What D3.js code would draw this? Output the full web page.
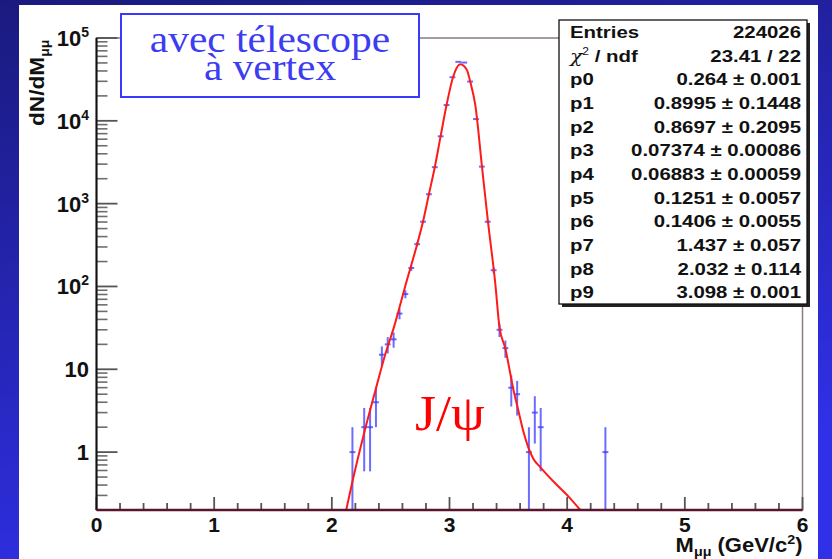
<!DOCTYPE html>
<html>
<head>
<meta charset="utf-8">
<script src="https://cdn.jsdelivr.net/npm/d3@7"></script>
<style>
  html, body { margin: 0; padding: 0; overflow: hidden; }
  svg { display: block; }
  .root-font { font-family: "Liberation Sans", Arial, sans-serif; font-weight: bold; }
  .serif-font { font-family: "Liberation Serif", "Times New Roman", serif; }
</style>
</head>
<body>
<svg id="chart-svg" width="832" height="559"></svg>
<script>
// histogram bins (width 0.05 GeV), bin centre and content, empty bins left out
const binCenters = [2.175, 2.275, 2.325, 2.375, 2.425, 2.475, 2.525, 2.575, 2.625, 2.675,
                    2.725, 2.775, 2.825, 2.875, 2.925, 2.975, 3.025, 3.075, 3.125, 3.175,
                    3.225, 3.275, 3.325, 3.375, 3.425, 3.475, 3.525, 3.575, 3.675, 3.725,
                    3.775, 4.325];
const binCounts = [1, 2, 2, 4, 15, 20, 23, 47, 81, 167,
                   324, 605, 1300, 2754, 6500, 15500, 33600, 51500, 50500, 29800,
                   10500, 2800, 605, 157, 30, 18, 6, 5, 1, 3,
                   2, 1];
const binWidth = 0.05;

// fit curve
const fitMass = [2.122, 2.178, 2.27, 2.368, 2.45, 2.53, 2.638, 2.708, 2.775, 2.825, 2.875,
                 2.925, 2.975, 3.03, 3.091, 3.148, 3.176, 3.219, 3.276, 3.327, 3.389,
                 3.425, 3.474, 3.544, 3.587, 3.629, 3.672, 3.715, 3.771, 3.913, 4.012, 4.111];
const fitValue = [0.2, 0.46, 1.6, 5.4, 14.5, 33, 119, 264, 607, 1300, 2754,
                  6578, 15500, 33640, 48200, 41200, 29780, 15570, 2800, 607, 109,
                  32, 18, 5.6, 3.1, 1.75, 1.12, 0.82, 0.66, 0.40, 0.29, 0.2];

const xMajorTicks = [0, 1, 2, 3, 4, 5, 6];
const yDecades = [1, 10, 100, 1000, 10000, 100000];
const yLabelBase = ['1', '10', '10', '10', '10', '10'];
const yLabelExp = ['', '', '2', '3', '4', '5'];

const statLabels = ['Entries', 'χ2 / ndf', 'p0', 'p1', 'p2', 'p3', 'p4', 'p5', 'p6', 'p7', 'p8', 'p9'];
const statValues = ['224026', '23.41 / 22', '0.264 ± 0.001', '0.8995 ± 0.1448', '0.8697 ± 0.2095',
                    '0.07374 ± 0.00086', '0.06883 ± 0.00059', '0.1251 ± 0.0057', '0.1406 ± 0.0055',
                    '1.437 ± 0.057', '2.032 ± 0.114', '3.098 ± 0.001'];

const svg = d3.select('#chart-svg');

// slide background
const defs = svg.append('defs');
const grad = defs.append('linearGradient').attr('id', 'bg-grad')
      .attr('x1', '0').attr('y1', '0').attr('x2', '0.35').attr('y2', '1');
grad.append('stop').attr('offset', '0').attr('stop-color', '#1a1a7e');
grad.append('stop').attr('offset', '1').attr('stop-color', '#3030e8');
svg.append('rect').attr('width', 832).attr('height', 559).attr('fill', 'url(#bg-grad)');
svg.append('rect').attr('x', 19).attr('y', 5).attr('width', 799).attr('height', 560).attr('fill', '#ffffff');

const frame = {left: 96.5, right: 802.5, top: 38, bottom: 510};

const x = d3.scaleLinear().domain([0, 6]).range([frame.left, frame.right]);
const y = d3.scaleLog().domain([0.2, 1e5]).range([frame.bottom, frame.top]).clamp(true);

// text stretched sideways like the slide
const stretched = (sel, px, py, sx, rot) =>
      sel.attr('transform', `translate(${px},${py})${rot ? ' rotate(' + rot + ')' : ''} scale(${sx},1)`);

// frame
svg.append('rect')
    .attr('x', frame.left).attr('y', frame.top)
    .attr('width', frame.right - frame.left).attr('height', frame.bottom - frame.top)
    .attr('fill', 'none').attr('stroke', '#8a7c7c').attr('stroke-width', 1.5);

// y ticks (inside, major + minor per decade)
const yMinor = [];
[0.1, ...yDecades].forEach(d => { for (let k = 2; k <= 9; k++) yMinor.push(d * k); });
const yTicksG = svg.append('g');
yTicksG.selectAll('line.minor')
    .data(yMinor.filter(v => v >= 0.2 && v < 1e5))
    .enter().append('line')
    .attr('x1', frame.left).attr('x2', frame.left + 11)
    .attr('y1', d => y(d)).attr('y2', d => y(d))
    .attr('stroke', '#6e6e6e').attr('stroke-width', 1.6);
yTicksG.selectAll('line.major')
    .data(yDecades)
    .enter().append('line')
    .attr('x1', frame.left).attr('x2', frame.left + 21)
    .attr('y1', d => y(d)).attr('y2', d => y(d))
    .attr('stroke', '#555').attr('stroke-width', 1.8);

// x ticks (inside, every 0.2)
const xTicksG = svg.append('g');
xTicksG.selectAll('line')
    .data(d3.range(0, 31).map(i => i * 0.2))
    .enter().append('line')
    .attr('x1', d => x(d)).attr('x2', d => x(d))
    .attr('y1', frame.bottom)
    .attr('y2', (d, i) => frame.bottom - (i % 5 === 0 ? 13 : 7))
    .attr('stroke', '#555').attr('stroke-width', 1.8);

// y tick labels
const yLab = svg.append('g').attr('class', 'root-font').attr('fill', '#111');
yDecades.forEach((d, i) => {
    const t = yLab.append('text')
          .attr('x', 89).attr('y', y(d) + 8)
          .attr('text-anchor', 'end').attr('font-size', 22);
    t.append('tspan').text(yLabelBase[i]);
    if (yLabelExp[i]) {
        t.append('tspan').attr('dy', -9).attr('font-size', 14).text(yLabelExp[i]);
    }
});

// x tick labels
svg.append('g').attr('class', 'root-font').attr('fill', '#111')
    .selectAll('text').data(xMajorTicks).enter().append('text')
    .attr('x', d => x(d)).attr('y', 532)
    .attr('text-anchor', 'middle').attr('font-size', 21)
    .text(d => d);

// axis titles
const xTitle = svg.append('text').attr('class', 'root-font').attr('fill', '#111')
      .attr('text-anchor', 'end').attr('font-size', 20);
stretched(xTitle, frame.right, 552, 1.1);
xTitle.append('tspan').text('M');
xTitle.append('tspan').attr('font-size', 13).attr('dy', 4).text('μμ');
xTitle.append('tspan').attr('dy', -4).text(' (GeV/c');
xTitle.append('tspan').attr('font-size', 13).attr('dy', -8).text('2');
xTitle.append('tspan').attr('dy', 8).text(')');

const yTitle = svg.append('text').attr('class', 'root-font').attr('fill', '#111').attr('font-size', 21);
stretched(yTitle, 44, 126, 1.08, -90);
yTitle.append('tspan').text('dN/dM');
yTitle.append('tspan').attr('font-size', 13).attr('dy', 5).text('μμ');

// left axis line
svg.append('line')
    .attr('x1', frame.left).attr('x2', frame.left).attr('y1', frame.top).attr('y2', frame.bottom)
    .attr('stroke', '#111').attr('stroke-width', 2);

// data error bars
const bins = binCenters.map((c, i) => ({m: c, n: binCounts[i], e: Math.sqrt(binCounts[i])}));
const dataG = svg.append('g').attr('stroke', '#3b3bff').attr('stroke-opacity', 0.75).attr('stroke-width', 2);
dataG.selectAll('line.v').data(bins).enter().append('line')
    .attr('x1', d => x(d.m)).attr('x2', d => x(d.m))
    .attr('y1', d => y(Math.max(d.n - d.e, 0.2))).attr('y2', d => y(d.n + d.e));
dataG.selectAll('line.h').data(bins).enter().append('line')
    .attr('x1', d => x(d.m - binWidth / 2)).attr('x2', d => x(d.m + binWidth / 2))
    .attr('y1', d => y(d.n)).attr('y2', d => y(d.n));

// fit curve
const fitPoints = fitMass.map((m, i) => [m, fitValue[i]]);
svg.append('path')
    .datum(fitPoints)
    .attr('d', d3.line().x(d => x(d[0])).y(d => y(d[1])).curve(d3.curveMonotoneX))
    .attr('fill', 'none').attr('stroke', '#ff1a1a').attr('stroke-width', 2);

// bottom line: axis with the clipped fit on it
svg.append('line')
    .attr('x1', frame.left).attr('x2', frame.right).attr('y1', frame.bottom).attr('y2', frame.bottom)
    .attr('stroke', '#5a1430').attr('stroke-width', 2.6);

// "avec telescope" box
svg.append('rect').attr('x', 121).attr('y', 14).attr('width', 298).attr('height', 83)
    .attr('fill', '#fff').attr('stroke', '#3a3aff').attr('stroke-width', 2);
const boxText = svg.append('text').attr('class', 'serif-font').attr('fill', '#3c3cf2')
      .attr('text-anchor', 'middle').attr('font-size', 37);
stretched(boxText, 270, 52, 1.12);
boxText.append('tspan').attr('x', 0).attr('y', 0).text('avec télescope');
boxText.append('tspan').attr('x', 0).attr('y', 28).text('à vertex');

// J/psi label
const jpsi = svg.append('text').attr('class', 'serif-font').attr('fill', '#ff0000')
      .attr('font-size', 50).text('J/ψ');
stretched(jpsi, 415, 430, 1.08);

// stats box
const stat = {left: 559, right: 807, top: 20, bottom: 304};
const rowH = (stat.bottom - stat.top) / statLabels.length;
svg.append('rect').attr('x', stat.left + 3).attr('y', stat.top + 3)
    .attr('width', stat.right - stat.left).attr('height', stat.bottom - stat.top).attr('fill', '#222');
svg.append('rect').attr('x', stat.left).attr('y', stat.top)
    .attr('width', stat.right - stat.left).attr('height', stat.bottom - stat.top)
    .attr('fill', '#fff').attr('stroke', '#111').attr('stroke-width', 1.3);
const statG = svg.append('g').attr('class', 'root-font').attr('fill', '#111').attr('font-size', 17);
statLabels.forEach((lab, i) => {
    const yy = stat.top + rowH * (i + 0.5) + 6;
    const t = statG.append('text');
    stretched(t, stat.left + 11, yy, 1.2);
    if (lab.startsWith('χ')) {
        t.append('tspan').attr('font-family', 'DejaVu Serif').attr('font-weight', 'normal').attr('font-style', 'italic').text('χ');
        t.append('tspan').attr('font-size', 10).attr('dy', -7).attr('font-weight', 'normal').text('2');
        t.append('tspan').attr('dy', 7).text(' / ndf');
    } else {
        t.text(lab);
    }
    const v = statG.append('text').attr('text-anchor', 'end').text(statValues[i]);
    stretched(v, stat.right - 6, yy, 1.2);
});
</script>
</body>
</html>
